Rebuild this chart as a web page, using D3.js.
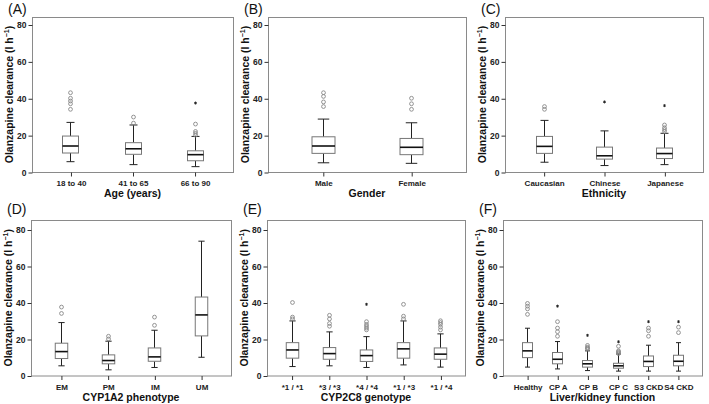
<!DOCTYPE html>
<html><head><meta charset="utf-8">
<script src="https://cdn.jsdelivr.net/npm/d3@7/dist/d3.min.js"></script>
<style>body{margin:0;background:#fff}svg{display:block;font-family:"Liberation Sans",Arial,sans-serif}</style>
</head><body><svg id="c" width="709" height="404"></svg>
<script>
// ---- data ----
const yTicks = [0, 20, 40, 60, 80];
const yLabel = "Olanzapine clearance (l h";

const aCats = ["18 to 40", "41 to 65", "66 to 90"];
const aLow = [5.6, 4.0, 2.9], aQ1 = [10.3, 9.6, 6.1], aMed = [14.1, 12.6, 9.4], aQ3 = [19.5, 15.9, 11.5], aHigh = [26.9, 25.5, 19.3];
const aOut = [[34, 37, 38.5, 40, 43], [26.5, 29.8], [20, 21, 22, 26]];
const aExt = [[], [], [37.4]];

const bCats = ["Male", "Female"];
const bLow = [5.0, 4.7], bQ1 = [10.1, 9.4], bMed = [14.1, 13.4], bQ3 = [19.1, 18.2], bHigh = [28.7, 26.7];
const bOut = [[35.5, 38, 41, 43], [34, 37, 40]];
const bExt = [[], []];

const cCats = ["Caucasian", "Chinese", "Japanese"];
const cLow = [5.3, 3.5, 4.0], cQ1 = [10.1, 7.0, 7.3], cMed = [13.9, 8.8, 10.0], cQ3 = [19.3, 13.5, 13.0], cHigh = [28.0, 22.3, 21.0];
const cOut = [[34, 35.5], [], [22, 23, 24, 25.5]];
const cExt = [[], [38], [36]];

const dCats = ["EM", "PM", "IM", "UM"];
const dLow = [5.3, 3.1, 4.4, 10.0], dQ1 = [9.3, 6.4, 7.8, 21.7], dMed = [13.1, 8.2, 10.2, 33.2], dQ3 = [17.7, 11.3, 15.1, 43.0], dHigh = [29.0, 18.8, 24.8, 73.6];
const dOut = [[34, 37.5], [20, 21.5], [27.5, 32], []];
const dExt = [[], [], [], []];

const eCats = ["*1 / *1", "*3 / *3", "*4 / *4", "*1 / *3", "*1 / *4"];
const eLow = [4.9, 5.3, 4.4, 5.8, 4.6], eQ1 = [9.5, 8.9, 7.7, 9.5, 8.9], eMed = [14.0, 12.0, 10.9, 14.6, 11.7], eQ3 = [18.0, 15.3, 14.0, 18.0, 15.1], eHigh = [29.9, 23.9, 21.3, 29.9, 22.8];
const eOut = [[31, 32, 40], [27, 28.5, 31, 33], [25, 26, 27, 28, 29.5], [31, 32.5, 39], [25, 26.5, 28, 29, 30]];
const eExt = [[], [], [39], [], []];

const fCats = ["Healthy", "CP A", "CP B", "CP C", "S3 CKD", "S4 CKD"];
const fLow = [4.6, 3.6, 2.7, 2.4, 2.4, 2.4], fQ1 = [9.8, 6.4, 4.6, 4.0, 4.9, 5.3], fMed = [13.5, 8.9, 6.4, 5.3, 7.7, 7.8], fQ3 = [18.0, 12.6, 8.2, 6.7, 10.7, 11.1], fHigh = [25.9, 18.6, 13.5, 11.8, 16.6, 18.0];
const fOut = [[33.5, 36.5, 38, 39.5], [21.5, 24, 26, 29.5], [14.5, 15, 15.5, 16.5], [12, 12.5, 13, 13.5, 16], [21.5, 24.5, 26], [23.5, 26.5]];
const fExt = [[], [38], [22], [18.5], [29.5], [29.5]];

const panelTitles = ["(A)", "(B)", "(C)", "(D)", "(E)", "(F)"];
const xTitles = ["Age (years)", "Gender", "Ethnicity", "CYP1A2 phenotype", "CYP2C8 genotype", "Liver/kidney function"];

// ---- layout ----
const data = [
  [aCats, aLow, aQ1, aMed, aQ3, aHigh, aOut, aExt],
  [bCats, bLow, bQ1, bMed, bQ3, bHigh, bOut, bExt],
  [cCats, cLow, cQ1, cMed, cQ3, cHigh, cOut, cExt],
  [dCats, dLow, dQ1, dMed, dQ3, dHigh, dOut, dExt],
  [eCats, eLow, eQ1, eMed, eQ3, eHigh, eOut, eExt],
  [fCats, fLow, fQ1, fMed, fQ3, fHigh, fOut, fExt]
];
const layout = [
  {x0: 32, x1: 233, top: 17, y0: 172, y80: 24.5, pad: 0.62, bw: 16, ty: 14},
  {x0: 268, x1: 466, top: 17, y0: 172, y80: 24.5, pad: 0.62, bw: 23, ty: 14},
  {x0: 505, x1: 703, top: 17, y0: 172, y80: 24.5, pad: 0.64, bw: 16, ty: 14},
  {x0: 31, x1: 231, top: 220, y0: 375.5, y80: 229.5, pad: 0.64, bw: 12.5, ty: 214},
  {x0: 267, x1: 465, top: 220, y0: 375.5, y80: 229.5, pad: 0.66, bw: 12.5, ty: 214},
  {x0: 503, x1: 702, top: 220, y0: 375.5, y80: 229.5, pad: 0.8, bw: 10, ty: 214}
];

const svg = d3.select("#c");
data.forEach((d, i) => {
  const L = layout[i];
  const [cats, low, q1, med, q3, high, outs, exts] = d;
  const x = d3.scalePoint().domain(cats).range([L.x0, L.x1]).padding(L.pad);
  const y = d3.scaleLinear().domain([0, 80]).range([L.y0, L.y80]);
  const g = svg.append("g");

  // frame
  g.append("rect").attr("x", L.x0 + 0.5).attr("y", L.top + 0.5)
    .attr("width", L.x1 - L.x0).attr("height", L.y0 - L.top)
    .attr("fill", "none").attr("stroke", "#8a8a8a").attr("stroke-width", 1);

  // y axis
  const ya = g.append("g").attr("transform", `translate(${L.x0 + 0.5},0.5)`)
    .call(d3.axisLeft(y).tickValues(yTicks).tickSize(4).tickPadding(2));
  ya.select(".domain").remove();
  ya.selectAll("line").attr("stroke", "#333");
  ya.selectAll("text").attr("font-size", 8.5).attr("font-weight", "bold").attr("fill", "#222")
    .attr("font-family", "Liberation Sans, Arial, sans-serif");

  // x axis
  const xa = g.append("g").attr("transform", `translate(0.5,${L.y0 + 0.5})`)
    .call(d3.axisBottom(x).tickSize(4).tickPadding(4));
  xa.select(".domain").remove();
  xa.selectAll("line").attr("stroke", "#333");
  xa.selectAll("text").attr("font-size", 8).attr("font-weight", "bold").attr("fill", "#222")
    .attr("font-family", "Liberation Sans, Arial, sans-serif");

  // boxes
  cats.forEach((c, j) => {
    const cx = Math.round(x(c)) + 0.5;
    const bw = L.bw, cw = bw / 2;
    const bg = g.append("g");
    bg.append("line").attr("x1", cx).attr("x2", cx).attr("y1", y(high[j])).attr("y2", y(q3[j])).attr("stroke", "#222");
    bg.append("line").attr("x1", cx).attr("x2", cx).attr("y1", y(q1[j])).attr("y2", y(low[j])).attr("stroke", "#222");
    bg.append("line").attr("x1", cx - cw / 2).attr("x2", cx + cw / 2).attr("y1", y(high[j])).attr("y2", y(high[j])).attr("stroke", "#222");
    bg.append("line").attr("x1", cx - cw / 2).attr("x2", cx + cw / 2).attr("y1", y(low[j])).attr("y2", y(low[j])).attr("stroke", "#222");
    bg.append("rect").attr("x", cx - bw / 2).attr("y", y(q3[j])).attr("width", bw).attr("height", y(q1[j]) - y(q3[j]))
      .attr("fill", "#fff").attr("stroke", "#777");
    bg.append("line").attr("x1", cx - bw / 2).attr("x2", cx + bw / 2).attr("y1", y(med[j])).attr("y2", y(med[j]))
      .attr("stroke", "#111").attr("stroke-width", 1.6);
    outs[j].forEach(v => {
      bg.append("circle").attr("cx", cx).attr("cy", y(v)).attr("r", 1.9)
        .attr("fill", "none").attr("stroke", "#888").attr("stroke-width", 0.9);
    });
    exts[j].forEach(v => {
      bg.append("path").attr("transform", `translate(${cx},${y(v)})`)
        .attr("d", d3.symbol(d3.symbolAsterisk, 6)()).attr("stroke", "#222").attr("stroke-width", 0.9).attr("fill", "none");
    });
  });

  // y label
  const ymid = (L.top + L.y0) / 2;
  const yl = g.append("text").attr("transform", `translate(${L.x0 - 19},${ymid}) rotate(-90)`)
    .attr("text-anchor", "middle").attr("font-size", 10.5).attr("font-weight", "bold").attr("fill", "#111");
  yl.append("tspan").text(yLabel);
  yl.append("tspan").attr("font-size", 7).attr("dy", -4).text("−1");
  yl.append("tspan").attr("dy", 4).text(")");

  // x title
  g.append("text").attr("x", (L.x0 + L.x1) / 2).attr("y", L.y0 + 25)
    .attr("text-anchor", "middle").attr("font-size", 10.5).attr("font-weight", "bold").attr("fill", "#111")
    .text(xTitles[i]);

  // panel title
  g.append("text").attr("x", L.x0 - 24).attr("y", L.ty)
    .attr("font-size", 14).attr("fill", "#111").text(panelTitles[i]);
});
</script></body></html>
